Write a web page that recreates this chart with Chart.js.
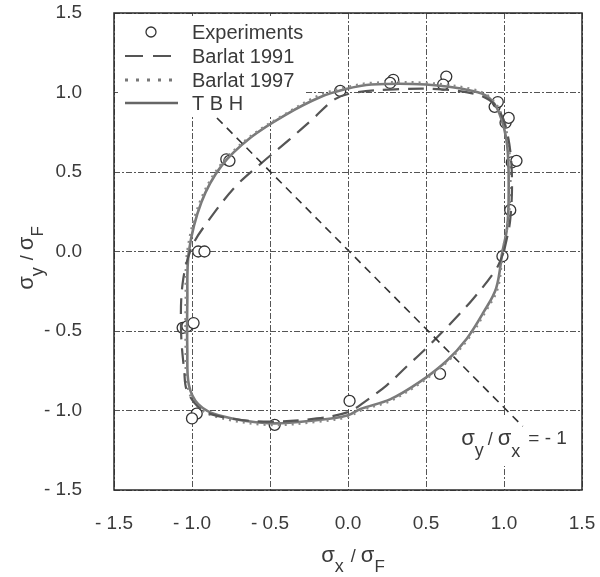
<!DOCTYPE html>
<html>
<head>
<meta charset="utf-8">
<script src="https://cdn.jsdelivr.net/npm/chart.js@4"></script>
<style>
  body { margin: 0; background: #fff; }
  canvas { display: block; }
</style>
</head>
<body>
<canvas id="chart" width="600" height="577"></canvas>
<script>
// tick labels
const xTickLabels = ["- 1.5", "- 1.0", "- 0.5", "0.0", "0.5", "1.0", "1.5"];
const yTickLabels = ["- 1.5", "- 1.0", "- 0.5", "0.0", "0.5", "1.0", "1.5"];

// experiments (circles)
const expX = [-0.05, 0.29, 0.27, 0.63, 0.61, 0.94, 0.96, 1.01, 1.03, 1.05, 1.08, 1.04, 0.99, 0.59, 0.01, -0.47, -0.97, -1.0, -1.06, -1.03, -0.99, -0.96, -0.92, -0.78, -0.76];
const expY = [1.01, 1.08, 1.06, 1.10, 1.05, 0.91, 0.94, 0.81, 0.84, 0.56, 0.57, 0.26, -0.03, -0.77, -0.94, -1.09, -1.02, -1.05, -0.48, -0.47, -0.45, 0.0, 0.0, 0.58, 0.57];

// Barlat 1991 (dashed)
const b91X = [1.0, 1.04, 1.05, 1.02, 0.96, 0.85, 0.6, 0.3, 0.05, -0.08, -0.23, -0.38, -0.55, -0.72, -0.89, -1.0, -1.06, -1.07, -1.05, -1.03, -0.93, -0.75, -0.5, -0.2, 0.0, 0.10, 0.25, 0.38, 0.50, 0.65, 0.80, 0.95, 1.0];
const b91Y = [0.0, 0.2, 0.5, 0.75, 0.9, 0.98, 1.02, 1.02, 1.0, 0.96, 0.83, 0.70, 0.56, 0.41, 0.2, 0.03, -0.2, -0.5, -0.75, -0.88, -1.0, -1.05, -1.07, -1.05, -1.01, -0.95, -0.84, -0.72, -0.61, -0.46, -0.30, -0.11, 0.0];

// Barlat 1997 (dotted)
const b97X = [0.99, 1.02, 1.04, 1.03, 0.98, 0.91, 0.80, 0.5, 0.15, -0.02, -0.19, -0.41, -0.63, -0.82, -0.95, -1.03, -1.04, -1.04, -1.03, -0.97, -0.84, -0.51, -0.19, 0.0, 0.08, 0.27, 0.46, 0.64, 0.77, 0.88, 0.96, 0.99];
const b97Y = [0.0, 0.15, 0.36, 0.67, 0.87, 0.97, 1.02, 1.06, 1.06, 1.03, 0.98, 0.86, 0.72, 0.54, 0.31, 0.0, -0.31, -0.63, -0.84, -0.97, -1.04, -1.09, -1.07, -1.04, -1.0, -0.94, -0.83, -0.69, -0.55, -0.38, -0.23, 0.0];

// TBH (solid)
const tbhX = [0.99, 1.02, 1.03, 1.02, 0.97, 0.90, 0.80, 0.5, 0.15, -0.02, -0.18, -0.40, -0.62, -0.81, -0.94, -1.02, -1.03, -1.03, -1.02, -0.96, -0.83, -0.51, -0.19, 0.0, 0.08, 0.27, 0.46, 0.63, 0.76, 0.87, 0.95, 0.99];
const tbhY = [0.0, 0.15, 0.36, 0.67, 0.87, 0.97, 1.01, 1.05, 1.05, 1.02, 0.97, 0.86, 0.72, 0.54, 0.31, 0.0, -0.31, -0.63, -0.84, -0.96, -1.03, -1.08, -1.06, -1.03, -0.99, -0.93, -0.82, -0.69, -0.55, -0.38, -0.23, 0.0];

// sigma_y / sigma_x = -1 line
const diagX = [-0.84, 1.12];
const diagY = [0.84, -1.1];

const toPts = (xs, ys) => xs.map((x, i) => ({ x: x, y: ys[i] }));

const ink = "#3a3a3a";
const fontFamily = "'Liberation Sans', Arial, sans-serif";

// draws text pieces with subscripts, centred at cx
function drawParts(ctx, parts, cx, baseY) {
  let w = 0;
  parts.forEach(p => {
    ctx.font = p.size + "px " + fontFamily;
    p.w = ctx.measureText(p.t).width + (p.gap || 0);
    w += p.w;
  });
  let x = cx - w / 2;
  parts.forEach(p => {
    ctx.font = p.size + "px " + fontFamily;
    ctx.fillText(p.t, x, baseY + (p.dy || 0));
    x += p.w;
  });
}

const decorPlugin = {
  id: "decor",
  beforeDatasetsDraw(chart) {
    const { ctx, chartArea: a } = chart;
    ctx.save();

    // white patches over the grid for legend and note
    ctx.fillStyle = "#fff";
    ctx.fillRect(118, 16, 188, 100);
    ctx.fillRect(446, 416, 132, 50);

    ctx.strokeStyle = "#2a2a2a";
    ctx.lineWidth = 1.5;
    ctx.strokeRect(a.left, a.top, a.right - a.left, a.bottom - a.top);

    // legend
    const rows = [32, 56, 80, 103];
    const names = ["Experiments", "Barlat 1991", "Barlat 1997", "T B H"];
    ctx.fillStyle = ink;
    ctx.font = "20px " + fontFamily;
    ctx.textBaseline = "middle";
    names.forEach((n, i) => ctx.fillText(n, 192, rows[i] + 1));
    ctx.beginPath();
    ctx.arc(151, rows[0], 5, 0, Math.PI * 2);
    ctx.fillStyle = "#fff";
    ctx.fill();
    ctx.strokeStyle = "#333";
    ctx.lineWidth = 1.3;
    ctx.stroke();
    const sample = (y, dash, color, width) => {
      ctx.beginPath();
      ctx.setLineDash(dash);
      ctx.strokeStyle = color;
      ctx.lineWidth = width;
      ctx.moveTo(125, y);
      ctx.lineTo(178, y);
      ctx.stroke();
    };
    sample(rows[1], [18, 10], "#555", 2);
    sample(rows[2], [3, 8], "#777", 3);
    sample(rows[3], [], "#666", 2.5);
    ctx.setLineDash([]);

    // note
    ctx.fillStyle = ink;
    ctx.textBaseline = "alphabetic";
    drawParts(ctx, [
      { t: "σ", size: 22 }, { t: "y", size: 18, dy: 11, gap: 4 },
      { t: "/ ", size: 18 },
      { t: "σ", size: 22 }, { t: "x", size: 18, dy: 12, gap: 8 },
      { t: "= - 1", size: 19, dy: -1 }
    ], 514, 445);
    ctx.restore();
  },
  afterDraw(chart) {
    const { ctx } = chart;
    ctx.save();
    ctx.fillStyle = ink;
    ctx.textBaseline = "alphabetic";

    // x title
    drawParts(ctx, [
      { t: "σ", size: 22 }, { t: "x", size: 18, dy: 10, gap: 2 },
      { t: " / ", size: 18 },
      { t: "σ", size: 22 }, { t: "F", size: 17, dy: 10 }
    ], 353, 562);

    // y title
    ctx.translate(33, 258);
    ctx.rotate(-Math.PI / 2);
    drawParts(ctx, [
      { t: "σ", size: 22 }, { t: "y", size: 18, dy: 10, gap: 2 },
      { t: " / ", size: 18 },
      { t: "σ", size: 22 }, { t: "F", size: 17, dy: 10 }
    ], 0, 0);
    ctx.restore();
  }
};

const gridStyle = {
  color: "#555",
  lineWidth: 1,
  drawTicks: false
};

new Chart(document.getElementById("chart"), {
  type: "scatter",
  data: {
    datasets: [
      {
        label: "diag",
        data: toPts(diagX, diagY),
        showLine: true,
        borderColor: "#333",
        borderWidth: 1.6,
        borderDash: [8, 6],
        pointRadius: 0
      },
      {
        label: "Barlat 1991",
        data: toPts(b91X, b91Y),
        showLine: true,
        tension: 0.35,
        borderColor: "#555",
        borderWidth: 2.2,
        borderDash: [16, 9],
        pointRadius: 0
      },
      {
        label: "Barlat 1997",
        data: toPts(b97X, b97Y),
        showLine: true,
        tension: 0.35,
        borderColor: "#888",
        borderWidth: 2.5,
        borderDash: [2, 5],
        pointRadius: 0
      },
      {
        label: "T B H",
        data: toPts(tbhX, tbhY),
        showLine: true,
        tension: 0.35,
        borderColor: "#7a7a7a",
        borderWidth: 2.6,
        pointRadius: 0
      },
      {
        label: "Experiments",
        data: toPts(expX, expY),
        pointRadius: 5.5,
        pointBackgroundColor: "#fff",
        pointBorderColor: "#333",
        pointBorderWidth: 1.3
      }
    ]
  },
  options: {
    responsive: false,
    animation: false,
    layout: { autoPadding: false, padding: { top: 13, right: 18, left: 0, bottom: 0 } },
    plugins: {
      legend: { display: false },
      tooltip: { enabled: false }
    },
    scales: {
      x: {
        type: "linear",
        min: -1.5,
        max: 1.5,
        afterFit: s => { s.height = 87; s.paddingLeft = 0; s.paddingRight = 0; },
        grid: gridStyle,
        border: { display: false, dash: [6, 2, 2, 2] },
        ticks: {
          stepSize: 0.5,
          padding: 22,
          color: ink,
          font: { family: fontFamily, size: 19 },
          callback: (v, i) => xTickLabels[i]
        }
      },
      y: {
        type: "linear",
        min: -1.5,
        max: 1.5,
        afterFit: s => { s.width = 114; s.paddingTop = 0; s.paddingBottom = 0; },
        grid: gridStyle,
        border: { display: false, dash: [6, 2, 2, 2] },
        ticks: {
          stepSize: 0.5,
          padding: 32,
          color: ink,
          font: { family: fontFamily, size: 19 },
          callback: (v, i) => yTickLabels[i]
        }
      }
    }
  },
  plugins: [decorPlugin]
});
</script>
</body>
</html>
